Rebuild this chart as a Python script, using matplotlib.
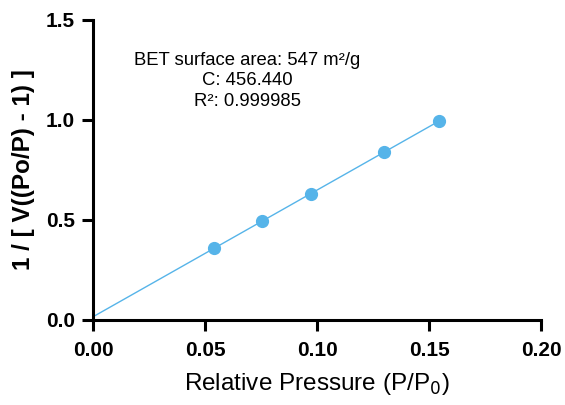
import numpy as np
from matplotlib import pyplot as plt

plt.rcParams["font.family"] = ["Liberation Sans", "DejaVu Sans"]

# BET points
rel_pressure = [0.054, 0.0755, 0.0973, 0.130, 0.1545]
bet_y = [0.360, 0.495, 0.628, 0.838, 0.997]

x_ticks = [0.00, 0.05, 0.10, 0.15, 0.20]
y_ticks = [0.0, 0.5, 1.0, 1.5]

info_lines = ["BET surface area: 547 m²/g", "C: 456.440", "R²: 0.999985"]

color = "#56b4e9"

fig = plt.figure(figsize=(5.65, 4.05), dpi=100)
ax = fig.add_axes([0.1646, 0.2099, 0.793, 0.741])

slope, intercept = np.polyfit(rel_pressure, bet_y, 1)
fit_x = np.array([0.0, max(rel_pressure)])
ax.plot(fit_x, slope * fit_x + intercept, color=color, lw=1.0, zorder=2)
ax.plot(rel_pressure, bet_y, "o", color=color, markersize=8.5, zorder=3, clip_on=False)

ax.set_xlim(0, 0.2)
ax.set_ylim(0, 1.5)
ax.set_xticks(x_ticks)
ax.set_xticklabels([f"{t:.2f}" for t in x_ticks])
ax.set_yticks(y_ticks)
ax.set_yticklabels([f"{t:.1f}" for t in y_ticks])

for side in ["top", "right"]:
    ax.spines[side].set_visible(False)
for side in ["left", "bottom"]:
    ax.spines[side].set_linewidth(2.2)
    ax.spines[side].set_capstyle("projecting")
ax.tick_params(width=2.2, length=8, labelsize=15)
ax.tick_params(axis="x", pad=7)
ax.tick_params(axis="y", pad=5)
for lbl in ax.get_xticklabels() + ax.get_yticklabels():
    lbl.set_fontweight("bold")

ax.set_xlabel("Relative Pressure (P/P$_0$)", fontsize=17.5, labelpad=8)
ax.set_ylabel("1 / [ V((Po/P) - 1) ]", fontsize=17.5, fontweight="bold", labelpad=8)

ax.text(0.069, 1.195, "\n".join(info_lines), ha="center", va="center",
        fontsize=13.3, linespacing=1.3)

fig.savefig("out.png", dpi=100)
